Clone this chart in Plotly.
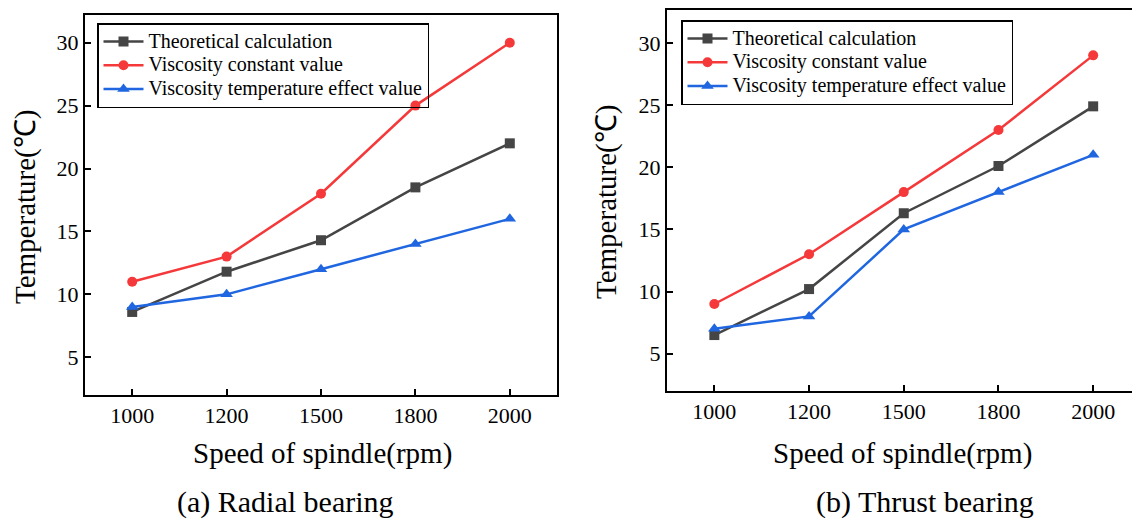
import plotly.graph_objects as go

# Spindle speed categories (rpm)
speeds = ["1000", "1200", "1500", "1800", "2000"]

# Radial bearing temperature rise (°C)
radial_theory = [8.6, 11.8, 14.3, 18.5, 22.0]
radial_const = [11, 13, 18, 25, 30]
radial_temp = [9, 10, 12, 14, 16]

# Thrust bearing temperature rise (°C)
thrust_theory = [6.5, 10.2, 16.3, 20.1, 24.9]
thrust_const = [9, 13, 18, 23, 29]
thrust_temp = [7, 8, 15, 18, 21]

series_names = [
    "Theoretical calculation",
    "Viscosity constant value",
    "Viscosity temperature effect value",
]
colors = ["#454545", "#f5393a", "#1f66e0"]
symbols = ["square", "circle", "triangle-up"]

FONT = "Liberation Serif, Times New Roman, serif"
W, H = 1132, 520

fig = go.Figure()

panels = [
    ("x", "y", "legend", [radial_theory, radial_const, radial_temp]),
    ("x2", "y2", "legend2", [thrust_theory, thrust_const, thrust_temp]),
]
for xa, ya, lg, data in panels:
    for name, vals, col, sym in zip(series_names, data, colors, symbols):
        fig.add_trace(go.Scatter(
            x=speeds, y=vals,
            # larger legend text on compact legend rows
            name=f'<span style="font-size:20px">{name}</span>',
            mode="lines+markers",
            xaxis=xa, yaxis=ya, legend=lg,
            line=dict(color=col, width=2.5),
            marker=dict(color=col, symbol=sym, size=10 if sym != "triangle-up" else 11),
        ))

axis_common = dict(
    showline=True, linecolor="black", linewidth=2,
    ticks="inside", ticklen=6, tickwidth=2, tickcolor="black",
    showgrid=False, zeroline=False,
    tickfont=dict(family=FONT, size=22, color="black"),
)

legend_common = dict(
    xanchor="left", yanchor="top",
    bgcolor="rgba(255,255,255,0)", bordercolor="black", borderwidth=1.5,
    font=dict(family=FONT, size=16, color="black"),
    itemwidth=40, tracegroupgap=0,
)

fig.update_layout(
    width=W, height=H,
    margin=dict(l=0, r=0, t=0, b=0),
    paper_bgcolor="white", plot_bgcolor="white",
    font=dict(family=FONT, color="black"),
    xaxis=dict(axis_common, domain=[85 / W, 557 / W], type="category",
               range=[-0.5, 4.5], mirror=True, anchor="y"),
    yaxis=dict(axis_common, domain=[(H - 395) / H, (H - 15) / H],
               range=[2, 32.2], tickvals=[5, 10, 15, 20, 25, 30],
               mirror=True, anchor="x"),
    xaxis2=dict(axis_common, domain=[667 / W, 1.0], type="category",
                range=[-0.5, 4.41], mirror=True, anchor="y2"),
    yaxis2=dict(axis_common, domain=[(H - 391) / H, (H - 10) / H],
                range=[2, 32.65], tickvals=[5, 10, 15, 20, 25, 30],
                mirror=False, anchor="x2"),
    legend=dict(legend_common, x=97 / W, y=(H - 23) / H),
    legend2=dict(legend_common, x=681 / W, y=(H - 20) / H),
    showlegend=True,
)

texts = [
    ("Temperature(℃)", 25, 207, -90, 29),
    ("Temperature(℃)", 607, 202, -90, 29),
    ("Speed of spindle(rpm)", 322, 453, 0, 29),
    ("Speed of spindle(rpm)", 902, 453, 0, 29),
    ("(a) Radial bearing", 285, 502, 0, 30),
    ("(b) Thrust bearing", 925, 502, 0, 30),
]
for txt, px, py, ang, size in texts:
    fig.add_annotation(
        text=txt, xref="paper", yref="paper",
        x=px / W, y=(H - py) / H, xanchor="center", yanchor="middle",
        showarrow=False, textangle=ang,
        font=dict(family=FONT, size=size, color="black"),
    )

fig.write_html("out.html")
